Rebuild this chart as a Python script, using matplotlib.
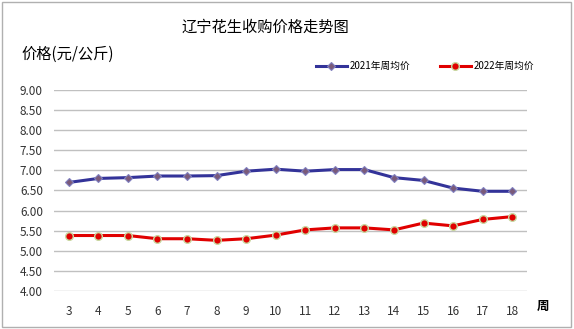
import matplotlib
matplotlib.use("Agg")
import matplotlib.pyplot as plt
from matplotlib.patches import Rectangle

plt.rcParams['font.family'] = ['Noto Sans CJK SC', 'DejaVu Sans']

# 周次与两年的周均价 (元/公斤)
weeks = [3, 4, 5, 6, 7, 8, 9, 10, 11, 12, 13, 14, 15, 16, 17, 18]
price_2021 = [6.70, 6.80, 6.82, 6.86, 6.86, 6.87, 6.98, 7.03,
              6.98, 7.02, 7.02, 6.82, 6.75, 6.56, 6.48, 6.48]
price_2022 = [5.38, 5.38, 5.38, 5.30, 5.30, 5.26, 5.30, 5.39,
              5.52, 5.57, 5.57, 5.52, 5.69, 5.62, 5.78, 5.85]
y_ticks = [4.0, 4.5, 5.0, 5.5, 6.0, 6.5, 7.0, 7.5, 8.0, 8.5, 9.0]

fig = plt.figure(figsize=(5.74, 3.29), dpi=100)
fig.patches.append(Rectangle((0.004, 0.006), 0.991, 0.988, transform=fig.transFigure,
                             fill=False, edgecolor="#b0b0b0", linewidth=1))

ax = fig.add_axes([0.0941, 0.1155, 0.824, 0.611])
ax.plot(weeks, price_2021, color="#333399", linewidth=2.2, marker="D",
        markersize=4.5, markerfacecolor="#7a5a7a", markeredgecolor="#8080c0",
        markeredgewidth=0.8, label="2021年周均价", zorder=3)
ax.plot(weeks, price_2022, color="#e00000", linewidth=2.2, marker="o",
        markersize=5.5, markerfacecolor="#e00000", markeredgecolor="#c8d8a0",
        markeredgewidth=1.0, label="2022年周均价", zorder=3)

ax.set_xlim(weeks[0] - 0.5, weeks[-1] + 0.5)
ax.set_ylim(y_ticks[0], y_ticks[-1])
ax.set_xticks(weeks)
ax.set_xticklabels([str(w) for w in weeks], fontsize=8.5, color="#333333")
ax.set_yticks(y_ticks)
ax.set_yticklabels([f"{v:.2f}" for v in y_ticks], fontsize=8.5, color="#333333")
ax.tick_params(axis="both", length=0)
ax.tick_params(axis="x", pad=10)
ax.tick_params(axis="y", pad=8)
ax.grid(axis="y", color="#c0c0c0", linewidth=1)
ax.set_axisbelow(True)
for s in ax.spines.values():
    s.set_visible(False)

fig.text(0.462, 0.918, "辽宁花生收购价格走势图", fontsize=11, ha="center", va="center")
fig.text(0.038, 0.835, "价格(元/公斤)", fontsize=11, ha="left", va="center")
fig.text(0.946, 0.07, "周", fontsize=9, fontweight="bold", ha="center", va="center")

ax.legend(loc="lower left", bbox_to_anchor=(0.535, 1.05), ncol=2, frameon=False,
          fontsize=7, handlelength=3.2, columnspacing=3.0, handletextpad=0.3)

fig.savefig("out.png", dpi=100)
